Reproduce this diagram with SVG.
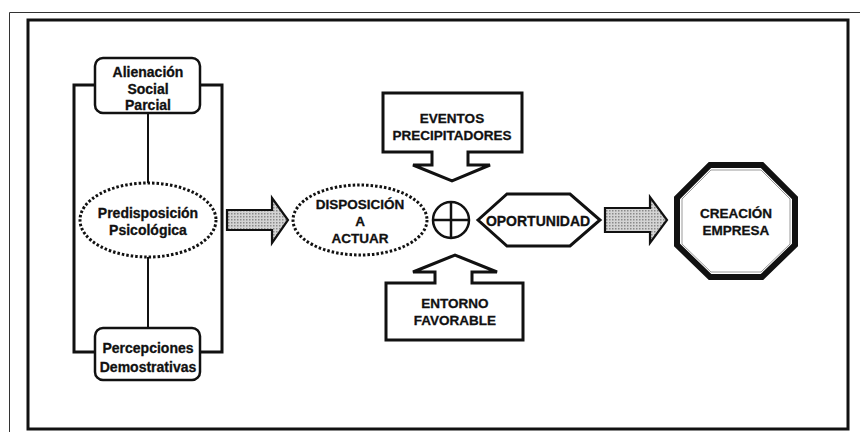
<svg xmlns="http://www.w3.org/2000/svg" width="860" height="432" viewBox="0 0 860 432">
  <defs>
    <pattern id="dots" width="3" height="3" patternUnits="userSpaceOnUse">
      <rect width="3" height="3" fill="#d4d4d4"/>
      <rect x="0" y="0" width="1.5" height="1.5" fill="#8a8a8a"/>
    </pattern>
    <style>
      .t { font-family: "Liberation Sans", Arial, sans-serif; font-weight: bold; font-size: 13.5px; fill: #111; stroke: #111; stroke-width: 0.3; text-anchor: middle; dominant-baseline: central; }
      .tm { font-size: 14px; }
      .box { fill: #fff; stroke: #111; stroke-width: 2.5; }
      .dotted { fill: #fff; stroke: #111; stroke-width: 3; stroke-dasharray: 2.5 2; }
      .line { fill: none; stroke: #111; stroke-width: 2; }
      .bracket { fill: none; stroke: #111; stroke-width: 3; }
      .blk { fill: url(#dots); stroke: #111; stroke-width: 2.2; stroke-linejoin: miter; }
      .callout { fill: #fff; stroke: #111; stroke-width: 3; stroke-linejoin: miter; }
    </style>
  </defs>
  <rect width="860" height="432" fill="#fff"/>
  <!-- frames -->
  <path d="M9.5,432 V12.5 H860" fill="none" stroke="#333" stroke-width="1"/>
  <rect x="28" y="20" width="820" height="409" fill="none" stroke="#111" stroke-width="3"/>

  <g id="connectors">
    <path class="bracket" d="M95,85 H74 V352 H95"/>
    <path class="bracket" d="M200,85 H222 V352 H200"/>
    <line class="line" x1="148" y1="113" x2="148" y2="183"/>
    <line class="line" x1="148" y1="257" x2="148" y2="328"/>
    <path class="blk" d="M227,210 H272 V198 L288,220 L272,243 V230 H227 Z"/>
    <path class="blk" d="M605,208 H650 V197 L667,220 L650,243 V232 H605 Z"/>
  </g>

  <g id="alienacion">
    <rect class="box" x="95" y="58" width="105" height="55" rx="8"/>
    <text class="t tm" x="148" y="72">Alienación</text>
    <text class="t tm" x="148" y="89">Social</text>
    <text class="t tm" x="148" y="105">Parcial</text>
  </g>

  <g id="predisposicion">
    <ellipse class="dotted" cx="148" cy="220" rx="68" ry="37"/>
    <text class="t tm" x="148" y="213">Predisposición</text>
    <text class="t tm" x="148" y="230">Psicológica</text>
  </g>

  <g id="percepciones">
    <rect class="box" x="95" y="328" width="105" height="52" rx="8"/>
    <text class="t tm" x="148" y="348">Percepciones</text>
    <text class="t tm" x="148" y="367">Demostrativas</text>
  </g>

  <g id="disposicion">
    <ellipse class="dotted" cx="360" cy="220" rx="67" ry="35"/>
    <text class="t" x="360" y="204">DISPOSICIÓN</text>
    <text class="t" x="360" y="221">A</text>
    <text class="t" x="360" y="238">ACTUAR</text>
  </g>

  <g id="suma">
    <circle cx="451" cy="220" r="18" fill="#fff" stroke="#111" stroke-width="2.5"/>
    <line x1="433" y1="220" x2="469" y2="220" stroke="#111" stroke-width="2.5"/>
    <line x1="451" y1="202" x2="451" y2="238" stroke="#111" stroke-width="2.5"/>
  </g>

  <g id="eventos">
    <path class="callout" d="M383,93 H522 V152 H468 V165 H490 L452,181 L413,165 H432 V152 H383 Z"/>
    <text class="t" x="452" y="118">EVENTOS</text>
    <text class="t" x="452" y="135">PRECIPITADORES</text>
  </g>

  <g id="entorno">
    <path class="callout" d="M386,340 H523 V283 H472 V272 H497 L455,255 L413,272 H435 V283 H386 Z"/>
    <text class="t" x="455" y="303">ENTORNO</text>
    <text class="t" x="455" y="320">FAVORABLE</text>
  </g>

  <g id="oportunidad">
    <path d="M478,220 L507,194 H570 L600,220 L570,246 H507 Z" fill="#fff" stroke="#111" stroke-width="3"/>
    <text class="t" x="538" y="221" style="font-size:14px">OPORTUNIDAD</text>
  </g>

  <g id="creacion">
    <polygon points="710,165 762,165 795,198 795,245 762,277 710,277 677,245 677,198" fill="#fff" stroke="#111" stroke-width="6"/>
    <polygon points="711,170 761,170 790,199 790,244 761,272 711,272 682,244 682,199" fill="none" stroke="#999" stroke-width="1"/>
    <text class="t" x="736" y="213">CREACIÓN</text>
    <text class="t" x="736" y="230">EMPRESA</text>
  </g>
</svg>
